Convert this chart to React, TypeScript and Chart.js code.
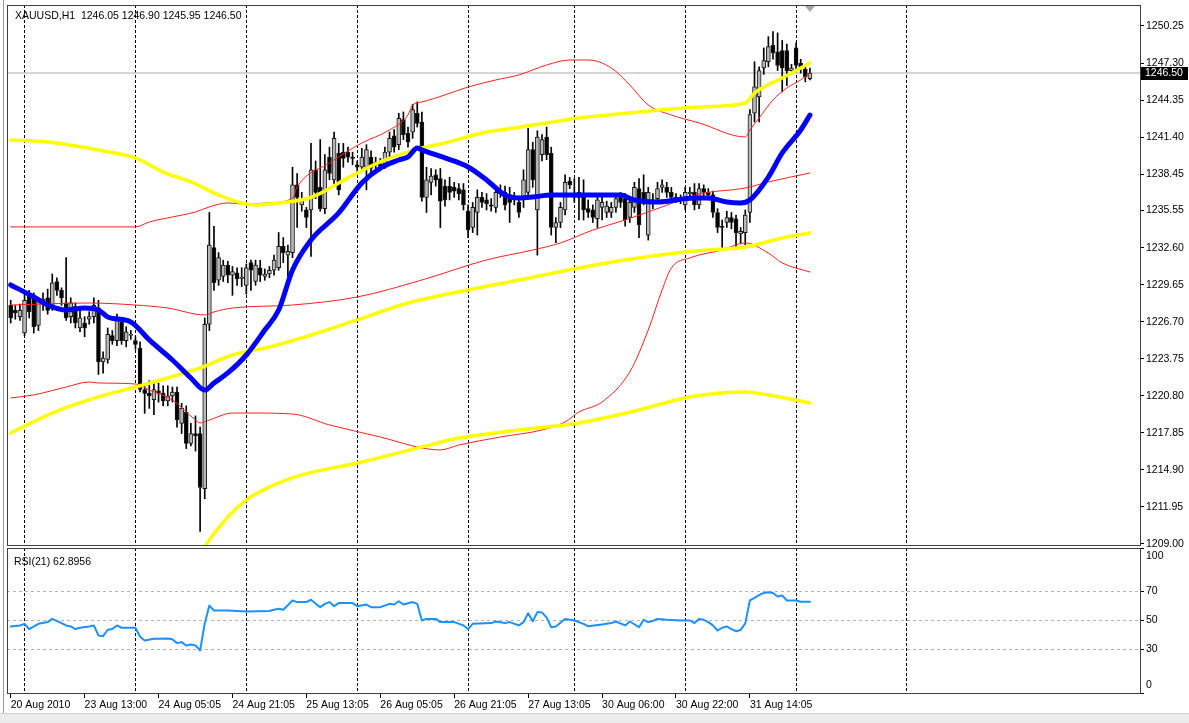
import React, { useEffect, useRef } from 'react';
import { Chart, registerables } from 'chart.js';

Chart.register(...registerables);

// ---------------- texts ----------------
const TITLE_TEXT = 'XAUUSD,H1  1246.05 1246.90 1245.95 1246.50';
const RSI_TITLE_TEXT = 'RSI(21) 62.8956';

// ---------------- candles (bar index 0..173) ----------------
const OPEN = [
  1228.0,1227.6,1227.1,1225.8,1228.8,1228.6,1226.4,1228.1,1228.6,1228.0,
  1229.9,1229.2,1228.2,1227.1,1227.9,1226.2,1226.6,1226.9,1227.1,1227.8,
  1223.5,1223.7,1225.6,1225.2,1226.7,1225.2,1225.6,1225.2,1224.6,1221.3,
  1221.0,1220.5,1221.2,1221.0,1220.4,1220.8,1221.1,1218.6,1219.5,1217.0,
  1217.8,1217.8,1213.4,1226.5,1232.6,1230.0,1230.3,1231.2,1230.4,1230.6,
  1230.15,1229.6,1231.4,1229.9,1231.0,1230.3,1230.5,1230.8,1231.0,1232.7,
  1232.0,1232.2,1237.6,1236.0,1235.6,1235.6,1238.8,1237.4,1235.7,1239.8,
  1238.0,1240.1,1240.2,1240.2,1239.8,1239.2,1239.0,1239.0,1239.8,1239.3,
  1239.3,1239.2,1240.2,1241.5,1240.8,1242.8,1241.7,1241.8,1243.3,1242.6,
  1236.6,1237.8,1238.4,1238.1,1237.5,1237.5,1237.4,1237.3,1237.2,1235.5,
  1234.2,1235.4,1236.6,1236.4,1236.0,1235.8,1236.9,1237.0,1236.8,1236.4,
  1236.2,1236.4,1237.0,1240.4,1235.6,1240.0,1241.4,1240.1,1234.2,1234.6,
  1235.6,1237.9,1236.6,1237.0,1236.9,1235.7,1235.6,1234.9,1235.8,1235.4,
  1235.4,1235.8,1236.6,1236.5,1235.0,1235.8,1237.3,1237.0,1233.6,1236.4,
  1236.5,1237.4,1237.4,1237.0,1236.6,1236.5,1236.0,1236.9,1237.0,1236.0,
  1237.3,1237.0,1236.8,1235.4,1234.3,1234.6,1235.0,1234.9,1233.7,1233.8,
  1235.4,1243.3,1244.6,1246.9,1247.4,1248.7,1248.2,1248.3,1248.3,1246.7,
  1248.5,1247.3,1246.8,1246.05,
];
const HIGH = [
  1228.4,1228.0,1228.1,1228.9,1229.2,1229.0,1228.6,1229.0,1229.3,1230.5,
  1230.2,1229.4,1231.8,1228.6,1228.2,1227.6,1227.1,1227.5,1228.6,1228.4,
  1224.3,1226.2,1226.0,1227.3,1227.0,1226.3,1226.0,1225.5,1225.1,1221.6,
  1222.0,1222.0,1221.8,1221.6,1221.6,1221.5,1221.5,1220.2,1220.0,1218.6,
  1219.2,1218.3,1227.0,1235.4,1234.3,1232.2,1231.6,1231.5,1231.1,1231.0,
  1231.0,1231.3,1231.6,1231.6,1231.6,1230.9,1231.1,1232.0,1233.8,1233.4,
  1232.8,1239.0,1238.5,1237.0,1235.8,1240.9,1239.5,1241.2,1240.0,1240.6,
  1241.8,1240.9,1240.9,1240.6,1240.2,1239.5,1240.5,1240.8,1240.3,1239.8,
  1239.7,1240.6,1241.8,1242.0,1243.3,1243.4,1242.2,1244.0,1244.2,1243.4,
  1239.0,1238.9,1238.8,1238.9,1238.0,1238.2,1237.8,1237.7,1237.7,1236.0,
  1236.2,1237.2,1237.0,1236.9,1236.5,1237.4,1237.6,1237.5,1237.4,1237.0,
  1236.7,1238.8,1242.1,1241.0,1241.9,1241.6,1242.2,1240.6,1235.0,1236.2,
  1238.4,1238.2,1238.1,1238.2,1238.0,1236.4,1236.0,1236.7,1236.6,1236.3,
  1236.2,1236.9,1237.0,1236.9,1236.6,1237.8,1238.1,1238.4,1237.4,1236.9,
  1237.8,1238.0,1237.8,1237.4,1236.9,1236.8,1237.4,1237.4,1237.7,1237.7,
  1237.6,1237.3,1237.1,1235.7,1234.8,1235.5,1235.4,1235.2,1234.2,1235.6,
  1243.6,1247.4,1247.0,1248.5,1249.4,1249.8,1249.7,1249.1,1248.8,1247.2,
  1248.9,1247.6,1247.1,1246.90,
];
const LOW = [
  1226.6,1226.9,1226.8,1225.6,1227.0,1225.8,1226.0,1227.6,1227.3,1227.6,
  1228.8,1228.0,1226.8,1226.6,1226.2,1225.9,1225.5,1226.5,1226.6,1222.5,
  1222.6,1223.4,1224.9,1224.8,1224.9,1224.7,1225.3,1224.5,1221.1,1219.4,
  1219.8,1219.3,1220.3,1220.0,1220.0,1220.3,1218.3,1217.8,1216.6,1216.8,
  1216.4,1210.0,1212.6,1226.0,1229.2,1229.6,1229.9,1229.8,1228.8,1229.6,
  1229.5,1228.9,1229.2,1229.6,1229.9,1230.0,1230.2,1230.4,1230.8,1231.4,
  1230.3,1231.8,1234.2,1235.5,1234.2,1231.9,1236.5,1235.5,1235.3,1238.0,
  1237.5,1236.8,1239.0,1239.4,1239.2,1238.6,1238.7,1237.2,1238.5,1238.9,
  1238.7,1238.9,1239.8,1240.2,1240.4,1241.2,1240.6,1241.3,1242.2,1236.3,
  1235.4,1236.8,1237.5,1234.2,1235.9,1236.4,1236.6,1236.4,1235.6,1233.4,
  1233.8,1233.6,1235.8,1235.6,1235.5,1235.4,1236.6,1235.6,1234.6,1236.0,
  1235.0,1235.8,1236.5,1237.4,1232.0,1239.5,1239.6,1233.6,1233.0,1234.2,
  1235.2,1237.3,1236.2,1234.8,1234.8,1235.0,1234.6,1234.2,1234.8,1235.0,
  1235.0,1235.4,1235.8,1234.3,1234.6,1235.4,1233.4,1236.0,1233.2,1235.7,
  1236.1,1237.0,1236.6,1236.2,1236.2,1236.1,1235.6,1236.6,1235.6,1235.7,
  1236.6,1236.4,1235.0,1233.8,1232.4,1234.2,1234.1,1232.7,1232.9,1232.8,
  1234.6,1242.6,1242.6,1246.4,1247.0,1247.6,1246.7,1245.0,1245.5,1246.4,
  1246.7,1246.5,1245.8,1245.95,
];
const CLOSE = [
  1227.0,1227.4,1227.6,1228.4,1227.5,1226.3,1228.3,1228.5,1227.6,1229.8,
  1229.2,1228.6,1227.0,1228.2,1226.6,1227.0,1226.2,1227.1,1228.0,1223.5,
  1223.8,1225.7,1225.2,1226.8,1225.2,1225.9,1225.7,1224.9,1221.3,1221.0,
  1220.8,1221.3,1221.0,1220.4,1220.8,1221.1,1218.9,1219.8,1217.0,1217.8,
  1217.6,1213.5,1226.5,1232.8,1229.8,1231.8,1231.2,1230.4,1230.7,1230.1,
  1230.25,1231.0,1230.8,1231.2,1230.4,1230.5,1230.8,1231.6,1232.7,1232.2,
  1232.3,1237.6,1236.6,1236.4,1235.0,1238.8,1237.0,1235.7,1238.8,1238.5,
  1241.3,1237.2,1239.7,1239.8,1239.7,1239.0,1239.8,1240.4,1238.9,1239.4,
  1239.1,1240.2,1241.3,1240.6,1242.9,1241.6,1241.0,1243.6,1242.5,1236.6,
  1238.0,1238.3,1238.0,1236.3,1236.4,1237.0,1237.1,1236.9,1236.0,1234.0,
  1235.8,1236.6,1236.2,1236.1,1235.9,1237.0,1237.1,1236.0,1236.2,1236.6,
  1235.4,1238.0,1240.4,1238.0,1241.4,1241.2,1240.0,1234.2,1234.6,1235.8,
  1237.8,1237.6,1236.9,1236.6,1235.6,1235.4,1235.0,1236.4,1236.2,1235.9,
  1235.8,1236.5,1236.2,1234.8,1236.2,1237.4,1234.4,1236.4,1237.0,1236.1,
  1237.3,1237.6,1237.0,1236.6,1236.5,1236.4,1237.0,1237.0,1236.0,1237.3,
  1237.0,1236.8,1235.4,1234.2,1234.2,1235.0,1234.6,1233.8,1233.9,1235.2,
  1243.2,1245.4,1246.7,1247.5,1248.6,1248.1,1247.1,1246.9,1246.7,1246.9,
  1247.1,1246.9,1246.2,1246.50,
];
const LAST_PRICE = 1246.5;

// ---------------- indicator lines (bar index / value) ----------------
const BLUE_MA_BARS = [0,5,8,12,16,19,21,26,30,35,39,42,44,47,51,55,58,61,65,71,76,80,84,86,88,89,94,99,103,107,110,113,117,123,132,135,140,148,151,155,158,160,164,167,171,173];
const BLUE_MA = [1229.63,1228.67,1228.03,1227.63,1227.79,1227.63,1227.08,1226.68,1225.25,1223.65,1222.22,1221.26,1221.82,1222.62,1224.05,1226.04,1227.63,1230.82,1233.21,1235.36,1237.75,1238.94,1239.58,1239.82,1240.54,1240.38,1239.74,1239.02,1237.99,1236.79,1236.55,1236.63,1236.79,1236.79,1236.79,1236.39,1236.23,1236.55,1236.55,1236.23,1236.15,1236.39,1238.22,1240.14,1241.97,1243.16];

const YELLOW_UP_BARS = [0,8,19,27,33,39,45,50,53,58,65,73,80,89,94,102,109,116,123,136,149,159,161,167,173];
const YELLOW_UP = [1241.17,1241.01,1240.37,1239.74,1238.62,1237.83,1236.79,1236.15,1235.99,1236.15,1236.6,1238.15,1239.42,1240.54,1240.93,1241.73,1242.13,1242.53,1242.92,1243.40,1243.80,1244.12,1244.91,1246.11,1247.30];

const YELLOW_MID_BARS = [0,9,19,27,34,41,48,56,63,75,86,99,110,123,133,144,151,159,167,173];
const YELLOW_MID = [1217.84,1219.43,1220.71,1221.50,1222.22,1223.02,1224.05,1224.69,1225.41,1226.84,1228.19,1229.23,1230.02,1230.98,1231.62,1232.17,1232.41,1232.65,1233.37,1233.77];

const YELLOW_LOW_BARS = [40,43,47,51,57,63,76,89,97,110,123,136,147,159,164,173];
const YELLOW_LOW = [1207.8,1209.32,1211.15,1212.5,1213.7,1214.5,1215.53,1216.73,1217.44,1218.08,1218.64,1219.67,1220.71,1221.10,1220.86,1220.23];

const RED_UP_BARS = [0,12,27,30,35,40,43,47,50,56,61,62,69,76,82,86,87,89,94,99,105,110,116,121,125,130,134,138,143,149,159,160,162,165,168,171,173];
const RED_UP = [1234.25,1234.25,1234.25,1234.64,1235.04,1235.44,1235.84,1236.16,1236.08,1236.16,1236.55,1237.43,1239.34,1240.93,1241.97,1243.16,1243.96,1244.20,1244.76,1245.39,1245.95,1246.35,1247.14,1247.54,1247.54,1246.91,1245.55,1243.96,1243.16,1242.53,1241.41,1241.97,1242.92,1244.36,1245.31,1245.95,1246.51];

const RED_MID_BARS = [0,17,27,34,42,44,48,61,75,89,103,113,119,126,133,141,149,159,164,173];
const RED_MID = [1228.03,1228.19,1228.03,1227.79,1227.24,1227.48,1227.79,1228.03,1228.67,1230.02,1231.62,1232.41,1232.97,1234.0,1234.80,1235.84,1236.87,1237.35,1237.83,1238.54];

const RED_LOW_BARS = [0,5,12,17,19,27,30,35,40,41,43,48,51,61,69,80,89,93,97,106,115,120,123,128,134,138,141,143,147,154,159,164,167,173];
const RED_LOW = [1220.63,1220.87,1221.50,1221.90,1221.82,1221.74,1221.26,1220.47,1218.87,1218.64,1218.87,1219.43,1219.43,1219.35,1218.48,1217.52,1216.65,1216.49,1216.88,1217.52,1218.08,1218.72,1219.51,1220.31,1222.70,1226.04,1229.23,1230.98,1231.78,1232.41,1232.97,1232.17,1231.38,1230.66];

// ---------------- RSI(21) ----------------
const RSI_BARS = [0,2,3,4,6,8,9,11,12,13,14,15,17,18,19,20,21,22,23,24,27,28,29,31,32,34,35,36,37,38,39,40,41,42,43,44,47,51,56,57,58,59,61,62,64,65,67,68,69,70,71,74,75,77,78,80,82,83,84,85,87,88,89,90,92,93,96,98,99,100,104,105,107,108,110,111,112,113,114,115,116,117,118,120,122,124,125,128,130,131,133,134,136,137,138,139,140,142,145,147,148,149,150,151,152,153,154,155,156,157,158,159,160,161,162,163,164,165,166,167,168,170,171,173];
const RSI_VALUES = [45.9,46.6,47.7,44.1,47.7,48.9,51.1,48.2,46.6,45.9,44.1,45.0,45.9,46.6,39.7,39.2,43.6,44.1,46.6,45.0,45.0,38.8,36.2,37.4,37.4,37.6,37.0,34.4,35.1,32.8,33.5,32.8,29.3,48.0,60.3,56.9,56.9,56.2,56.5,57.4,58.1,57.4,63.8,62.7,62.7,64.3,59.2,61.5,62.7,59.9,62.0,62.0,59.9,61.0,59.2,59.2,61.5,61.0,63.3,61.0,62.7,61.5,50.0,51.1,51.1,48.9,48.9,46.6,44.1,47.7,48.2,49.3,48.2,48.9,46.6,48.9,55.0,49.5,55.8,55.6,52.0,45.4,45.9,51.1,50.0,47.7,46.0,47.3,48.2,49.3,46.6,49.3,45.4,50.5,48.9,49.7,51.1,50.5,50.0,50.0,48.2,51.1,50.5,48.9,46.6,43.1,45.0,45.9,44.1,42.6,43.5,48.0,63.8,65.6,67.5,69.0,69.5,69.0,66.6,67.3,63.8,63.8,62.9,62.9];

// ---------------- axes ----------------
const PRICE_TICKS = [1209.0,1211.95,1214.9,1217.85,1220.8,1223.75,1226.7,1229.65,1232.6,1235.55,1238.45,1241.4,1244.35,1247.3,1250.25];
const PRICE_LABELS = ['1209.00','1211.95','1214.90','1217.85','1220.80','1223.75','1226.70','1229.65','1232.60','1235.55','1238.45','1241.40','1244.35','1247.30','1250.25'];
const TIME_TICK_BARS = [0,16,32,48,64,80,96,112,128,144,160];
const TIME_LABELS = ['20 Aug 2010','23 Aug 13:00','24 Aug 05:05','24 Aug 21:05','25 Aug 13:05','26 Aug 05:05','26 Aug 21:05','27 Aug 13:05','30 Aug 06:00','30 Aug 22:00','31 Aug 14:05'];
const DAY_GRID_BARS = [3,27,51,75,99,122,146,170,194];
const RSI_TICKS = [0,30,50,70,100];
const RSI_LEVELS = [30,50,70];

// view range
const X_MIN = -0.8;
const X_MAX = 244.44;
const PRICE_MIN = 1208.92;
const PRICE_MAX = 1251.92;

const FAMILY = "'Liberation Sans', Arial, sans-serif";
const FONT = { family: FAMILY, size: 10.5 };

const pts = (bars: number[], vals: number[]) => bars.map((b, i) => ({ x: b, y: vals[i] }));

const lineDs = (data: any, color: string, width: number, order: number, smooth = false) => ({
  type: 'line',
  data,
  borderColor: color,
  borderWidth: width,
  pointRadius: 0,
  tension: smooth ? 0.4 : 0,
  cubicInterpolationMode: smooth ? 'monotone' : 'default',
  borderJoinStyle: 'round',
  borderCapStyle: 'round',
  order,
});

const framePlugin = (color: string) => ({
  id: 'frame',
  afterDraw(chart: any) {
    const { ctx, chartArea: a } = chart;
    ctx.save();
    ctx.strokeStyle = color;
    ctx.lineWidth = 1;
    ctx.strokeRect(Math.round(a.left) + 0.5, Math.round(a.top) + 0.5, Math.round(a.right - a.left), Math.round(a.bottom - a.top));
    ctx.restore();
  },
});

const priceTagPlugin = {
  id: 'priceTag',
  afterDraw(chart: any) {
    const { ctx, chartArea } = chart;
    const y = chart.scales.y.getPixelForValue(LAST_PRICE);
    const left = chartArea.right + 1;
    ctx.save();
    ctx.fillStyle = '#000';
    ctx.fillRect(left, Math.round(y) - 6, 47, 13);
    ctx.fillStyle = '#fff';
    ctx.font = `10.5px ${FAMILY}`;
    ctx.textBaseline = 'middle';
    ctx.fillText(LAST_PRICE.toFixed(2), left + 4, Math.round(y) + 0.5);
    const xs = chart.scales.x.getPixelForValue(OPEN.length - 1);
    const top = chartArea.top + 1;
    ctx.fillStyle = '#a8a8a8';
    ctx.beginPath();
    ctx.moveTo(xs - 5, top);
    ctx.lineTo(xs + 5, top);
    ctx.lineTo(xs, top + 6);
    ctx.closePath();
    ctx.fill();
    ctx.restore();
  },
};

export default function App() {
  const mainRef = useRef<HTMLCanvasElement>(null);
  const rsiRef = useRef<HTMLCanvasElement>(null);

  useEffect(() => {
    const bull = CLOSE.map((c, i) => c >= OPEN[i]);
    const mainChart = new Chart(mainRef.current as HTMLCanvasElement, {
      type: 'line',
      data: {
        datasets: [
          lineDs(pts(BLUE_MA_BARS, BLUE_MA), '#0000ff', 5, 0, true),
          lineDs(pts(YELLOW_UP_BARS, YELLOW_UP), '#ffff00', 3.5, 1, true),
          lineDs(pts(YELLOW_MID_BARS, YELLOW_MID), '#ffff00', 3.5, 1, true),
          lineDs(pts(YELLOW_LOW_BARS, YELLOW_LOW), '#ffff00', 3.5, 1, true),
          lineDs(pts(RED_UP_BARS, RED_UP), '#ff2020', 1, 2, true),
          lineDs(pts(RED_MID_BARS, RED_MID), '#ff2020', 1, 2, true),
          lineDs(pts(RED_LOW_BARS, RED_LOW), '#ff2020', 1, 2, true),
          {
            type: 'bar',
            data: OPEN.map((o, i) => ({ x: i, y: [o, CLOSE[i]] })),
            backgroundColor: bull.map((b) => (b ? '#b8b8b8' : '#000000')),
            borderColor: '#1a1a1a',
            borderWidth: 1,
            borderSkipped: false,
            barThickness: 4,
            grouped: false,
            order: 4,
          },
          {
            type: 'bar',
            data: OPEN.map((_, i) => ({ x: i, y: [LOW[i], HIGH[i]] })),
            backgroundColor: '#000000',
            borderWidth: 0,
            barThickness: 1,
            grouped: false,
            order: 5,
          },
          lineDs([{ x: X_MIN, y: LAST_PRICE }, { x: X_MAX, y: LAST_PRICE }], '#c8c8c8', 1.5, 6),
        ] as any,
      },
      options: {
        responsive: false,
        animation: false,
        events: [],
        layout: { padding: { left: 7, top: 5, right: 0, bottom: 2 }, autoPadding: false },
        plugins: { legend: { display: false }, tooltip: { enabled: false } },
        scales: {
          x: {
            type: 'linear',
            min: X_MIN,
            max: X_MAX,
            offset: false,
            afterBuildTicks: (s: any) => { s.ticks = DAY_GRID_BARS.map((v) => ({ value: v })); },
            afterFit: (s: any) => { s.height = 0; s.paddingLeft = 0; s.paddingRight = 0; },
            ticks: { display: false },
            grid: { color: '#000', lineWidth: 1, drawTicks: false, borderDash: [3, 2], offset: false },
            border: { display: false, dash: [3, 2] },
          },
          y: {
            type: 'linear',
            position: 'right',
            min: PRICE_MIN,
            max: PRICE_MAX,
            afterBuildTicks: (s: any) => { s.ticks = PRICE_TICKS.map((v) => ({ value: v })); },
            afterFit: (s: any) => { s.width = 49; s.paddingTop = 0; s.paddingBottom = 0; },
            ticks: { callback: (_v: any, i: number) => PRICE_LABELS[i], autoSkip: false, font: FONT, color: '#000', padding: 2 },
            grid: { drawOnChartArea: false, drawTicks: true, tickLength: 4, tickColor: '#000' },
            border: { display: true, color: '#000' },
          },
        } as any,
      },
      plugins: [framePlugin('#404040'), priceTagPlugin],
    } as any);

    const rsiChart = new Chart(rsiRef.current as HTMLCanvasElement, {
      type: 'line',
      data: {
        datasets: [lineDs(pts(RSI_BARS, RSI_VALUES), '#1e90ff', 2, 0)] as any,
      },
      options: {
        responsive: false,
        animation: false,
        events: [],
        layout: { padding: { left: 7, top: 2, right: 0, bottom: 0 }, autoPadding: false },
        plugins: { legend: { display: false }, tooltip: { enabled: false } },
        scales: {
          x: {
            type: 'linear',
            position: 'bottom',
            weight: 0,
            min: X_MIN,
            max: X_MAX,
            afterBuildTicks: (s: any) => { s.ticks = TIME_TICK_BARS.map((v) => ({ value: v })); },
            afterFit: (s: any) => { s.height = 30; s.paddingLeft = 0; s.paddingRight = 0; },
            ticks: {
              callback: (_v: any, i: number) => TIME_LABELS[i],
              autoSkip: false,
              maxRotation: 0,
              minRotation: 0,
              align: 'start',
              font: FONT,
              color: '#000',
              padding: 1,
            },
            grid: { drawOnChartArea: false, drawTicks: true, tickLength: 5, tickColor: '#000' },
            border: { display: true, color: '#000' },
          },
          xg: {
            type: 'linear',
            position: 'bottom',
            weight: 1,
            min: X_MIN,
            max: X_MAX,
            afterBuildTicks: (s: any) => { s.ticks = DAY_GRID_BARS.map((v) => ({ value: v })); },
            afterFit: (s: any) => { s.height = 0; s.paddingLeft = 0; s.paddingRight = 0; },
            ticks: { display: false },
            grid: { color: '#000', lineWidth: 1, drawTicks: false, borderDash: [3, 2] },
            border: { display: false, dash: [3, 2] },
          },
          y: {
            type: 'linear',
            position: 'right',
            min: 0,
            max: 100,
            afterBuildTicks: (s: any) => { s.ticks = RSI_TICKS.map((v) => ({ value: v })); },
            afterFit: (s: any) => { s.width = 49; s.paddingTop = 0; s.paddingBottom = 0; },
            ticks: {
              callback: (v: any) => (v === 100 ? ['', '100'] : v === 0 ? ['0', ''] : String(v)),
              autoSkip: false,
              font: { family: FAMILY, size: 10.5, lineHeight: 1.5 },
              color: '#000',
              padding: 2,
            },
            grid: {
              color: (ctx: any) => (ctx.tick && RSI_LEVELS.includes(ctx.tick.value) ? '#b4b4b4' : 'rgba(0,0,0,0)'),
              drawOnChartArea: true,
              drawTicks: true,
              tickLength: 4,
              tickColor: '#000',
              borderDash: [3, 3],
            },
            border: { display: true, color: '#000', dash: [3, 3] },
          },
        } as any,
      },
      plugins: [framePlugin('#404040')],
    } as any);

    return () => {
      mainChart.destroy();
      rsiChart.destroy();
    };
  }, []);

  const textStyle: React.CSSProperties = {
    position: 'absolute',
    fontFamily: FAMILY,
    fontSize: '10.5px',
    lineHeight: '12px',
    color: '#000',
    whiteSpace: 'pre',
  };

  return (
    <div style={{ position: 'fixed', left: 0, top: 0, width: 1189, height: 723, background: '#fff', overflow: 'hidden' }}>
      <div style={{ position: 'absolute', left: 3, top: 0, width: 1, height: 713, background: '#9a9a9a' }} />
      <div style={{ position: 'absolute', left: 0, top: 713, width: 1189, height: 10, background: '#ececec', borderTop: '1px solid #cfcfcf' }} />
      <canvas ref={mainRef} width={1189} height={547} style={{ position: 'absolute', left: 0, top: 0 }} />
      <canvas ref={rsiRef} width={1189} height={177} style={{ position: 'absolute', left: 0, top: 546 }} />
      <div style={{ ...textStyle, left: 15, top: 9 }}>{TITLE_TEXT}</div>
      <div style={{ ...textStyle, left: 14, top: 555 }}>{RSI_TITLE_TEXT}</div>
    </div>
  );
}
